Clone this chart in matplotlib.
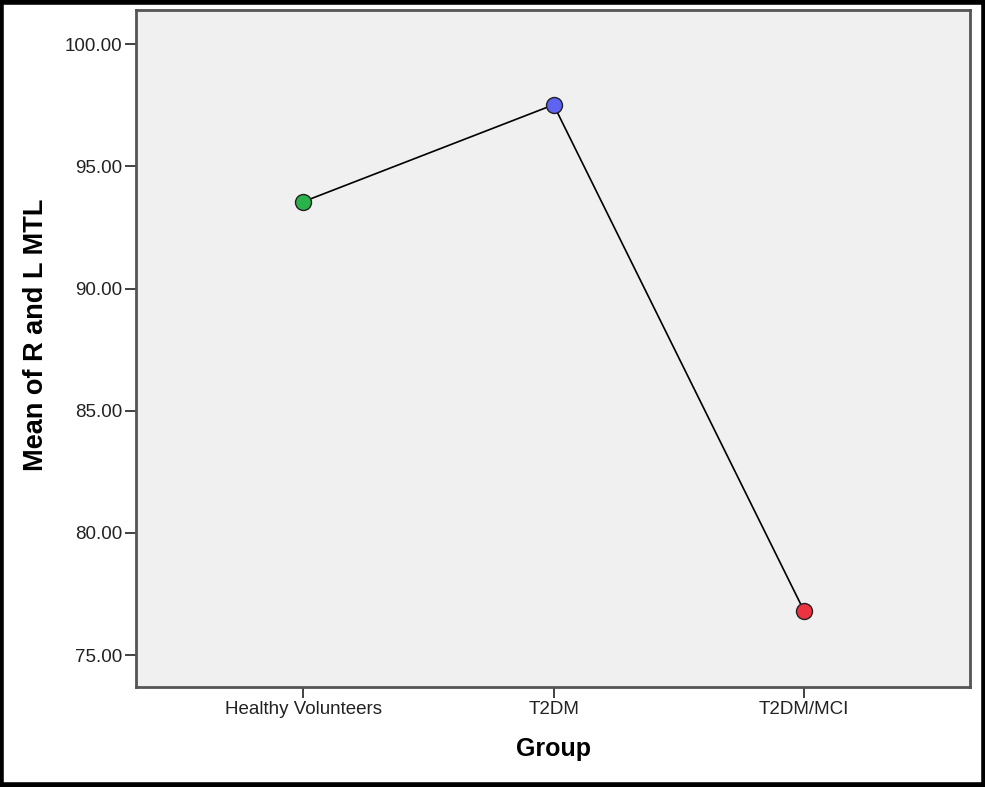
import matplotlib
matplotlib.use("Agg")
import matplotlib.pyplot as plt
from matplotlib.patches import Rectangle

plt.rcParams["font.family"] = ["Liberation Sans", "DejaVu Sans"]

# Group means
groups = ["Healthy Volunteers", "T2DM", "T2DM/MCI"]
means = [93.55, 97.52, 76.80]
point_colors = ["#2bb34b", "#5e63f2", "#ee3340"]
yticks = [75, 80, 85, 90, 95, 100]

fig = plt.figure(figsize=(9.85, 7.87), dpi=100)
ax = fig.add_axes([0.138, 0.127, 0.847, 0.86])
ax.set_facecolor("#f0f0f0")

xs = list(range(len(groups)))
ax.plot(xs, means, color="black", linewidth=1.2, zorder=2)
for x, y, c in zip(xs, means, point_colors):
    ax.plot(x, y, marker="o", markersize=11.5, markerfacecolor=c,
            markeredgecolor="#222222", markeredgewidth=1.0, zorder=3)

ax.set_xlim(-0.667, 2.663)
ax.set_ylim(73.69, 101.39)
ax.set_xticks(xs)
ax.set_xticklabels(groups, fontsize=13.5, color="#222222")
ax.set_yticks(yticks)
ax.set_yticklabels([f"{v:.2f}" for v in yticks], fontsize=13.5, color="#222222")
ax.tick_params(direction="out", length=8, width=1.3, color="#333333", pad=2)

for s in ax.spines.values():
    s.set_color("#555555")
    s.set_linewidth(2.0)

ax.set_xlabel("Group", fontsize=18, fontweight="bold", labelpad=14)
ax.set_ylabel("Mean of R and L MTL", fontsize=19.5, fontweight="bold")
ax.yaxis.set_label_coords(-0.104, 0.521)

# black frame around the whole image
fig.patches.append(Rectangle((0.0015, 0.002), 0.997, 0.996, transform=fig.transFigure,
                             fill=False, edgecolor="black", linewidth=4))

fig.savefig("out.png", dpi=100)
